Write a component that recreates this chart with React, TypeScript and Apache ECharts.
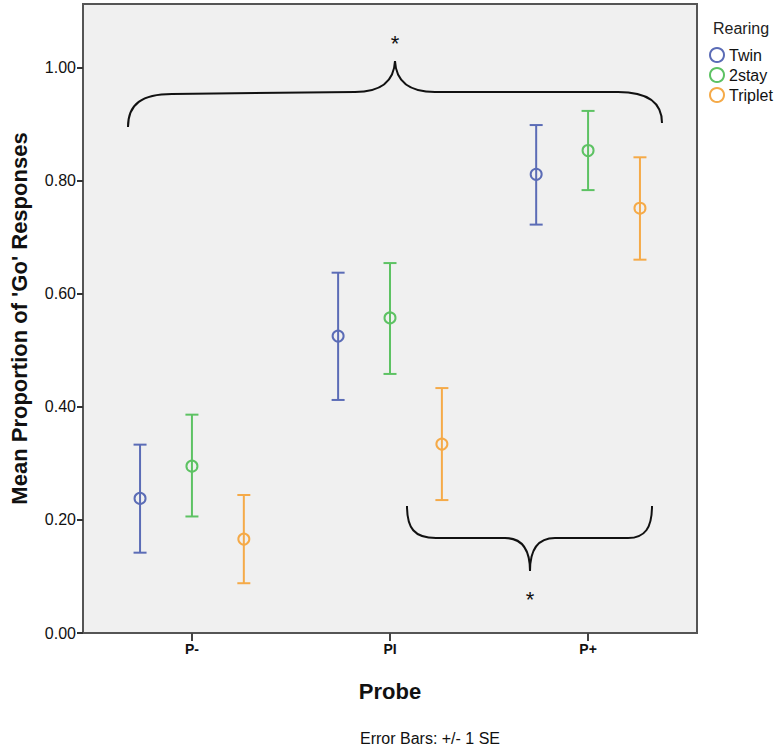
import React, { useEffect, useRef } from 'react';
import * as echarts from 'echarts';

const categories = ['P-', 'PI', 'P+'];
const groups = ['Twin', '2stay', 'Triplet'];

const twinMean = [0.238, 0.525, 0.811];
const twinLow = [0.142, 0.412, 0.722];
const twinHigh = [0.333, 0.637, 0.898];

const stayMean = [0.295, 0.557, 0.853];
const stayLow = [0.206, 0.458, 0.783];
const stayHigh = [0.386, 0.654, 0.923];

const tripMean = [0.166, 0.334, 0.751];
const tripLow = [0.088, 0.235, 0.660];
const tripHigh = [0.244, 0.433, 0.841];

const yTicks = [0, 0.2, 0.4, 0.6, 0.8, 1.0];
const xTicks = [0, 1, 2];

const colors = ['#5b6cb6', '#5dc263', '#f5aa48'];
const offsets = [-0.262, 0, 0.262];

const FONT = '"Liberation Sans", Arial, sans-serif';

function makeSeries(name: string, mean: number[], low: number[], high: number[], color: string, offset: number) {
  return {
    type: 'custom',
    name,
    itemStyle: { color },
    data: categories.map((_, i) => [i + offset, mean[i], low[i], high[i]]),
    encode: { x: 0, y: [1, 2, 3] },
    renderItem: (params: any, api: any) => {
      const x = api.value(0);
      const c = api.coord([x, api.value(1)]);
      const lo = api.coord([x, api.value(2)]);
      const hi = api.coord([x, api.value(3)]);
      const cap = 6.5;
      const st = { stroke: color, lineWidth: 2, fill: 'none' };
      return {
        type: 'group',
        children: [
          { type: 'line', shape: { x1: lo[0], y1: lo[1], x2: hi[0], y2: hi[1] }, style: st },
          { type: 'line', shape: { x1: lo[0] - cap, y1: lo[1], x2: lo[0] + cap, y2: lo[1] }, style: st },
          { type: 'line', shape: { x1: hi[0] - cap, y1: hi[1], x2: hi[0] + cap, y2: hi[1] }, style: st },
          { type: 'circle', shape: { cx: c[0], cy: c[1], r: 5.5 }, style: st },
        ],
      };
    },
  };
}

const topBrace =
  'M128,127 C128,104 142,94 172,94 L355,92 C380,92 394,82 395,61 C396,82 410,92 435,92 L618,92 C646,92 662,101 662,123';
const bottomBrace =
  'M407,506 C407,528 414,538 436,538 L505,538 C521,538 530,548 530,571 C530,548 539,538 555,538 L628,538 C645,538 652,528 652,506';

echarts.graphic.registerShape('topBrace', echarts.graphic.extendPath(topBrace, {}));
echarts.graphic.registerShape('bottomBrace', echarts.graphic.extendPath(bottomBrace, {}));

export default function App() {
  const ref = useRef<HTMLDivElement>(null);
  useEffect(() => {
    if (!ref.current) return;
    const chart = echarts.init(ref.current, undefined, { renderer: 'svg' });
    const series = [
      makeSeries(groups[0], twinMean, twinLow, twinHigh, colors[0], offsets[0]),
      makeSeries(groups[1], stayMean, stayLow, stayHigh, colors[1], offsets[1]),
      makeSeries(groups[2], tripMean, tripLow, tripHigh, colors[2], offsets[2]),
    ];
    chart.setOption({
      animation: false,
      backgroundColor: '#ffffff',
      textStyle: { fontFamily: FONT },
      title: {
        text: 'Rearing',
        left: 708,
        top: 15,
        textStyle: { fontSize: 16, fontWeight: 'normal', color: '#222', fontFamily: FONT },
      },
      legend: {
        orient: 'vertical',
        left: 709,
        top: 47,
        itemWidth: 14,
        itemHeight: 14,
        itemGap: 4,
        padding: 0,
        textStyle: { fontSize: 16, lineHeight: 14, color: '#111', fontFamily: FONT },
        data: groups.map((g, i) => ({
          name: g,
          icon: 'circle',
          itemStyle: { color: 'transparent', borderColor: colors[i], borderWidth: 2 },
        })),
      },
      grid: {
        left: 81,
        top: 4,
        width: 616,
        height: 629,
        show: true,
        backgroundColor: '#f0f0f0',
        borderColor: '#555',
        borderWidth: 2,
      },
      xAxis: {
        type: 'value',
        min: -0.55,
        max: 2.55,
        name: 'Probe',
        nameLocation: 'middle',
        nameGap: 47,
        nameTextStyle: { fontSize: 22, fontWeight: 'bold', color: '#111', fontFamily: FONT },
        axisLine: { show: true, onZero: false, lineStyle: { color: '#555', width: 2 } },
        axisTick: { show: true, length: 8, lineStyle: { color: '#444', width: 2 }, customValues: xTicks },
        axisLabel: {
          customValues: xTicks,
          formatter: (v: number) => categories[Math.round(v)],
          fontSize: 14,
          fontWeight: 'bold',
          color: '#111',
          margin: 9,
        },
        splitLine: { show: false },
      },
      yAxis: {
        type: 'value',
        min: 0,
        max: 1.112,
        name: "Mean Proportion of 'Go' Responses",
        nameLocation: 'middle',
        nameGap: 53,
        nameTextStyle: { fontSize: 22, fontWeight: 'bold', color: '#111', fontFamily: FONT },
        axisLine: { show: true, onZero: false, lineStyle: { color: '#555', width: 2 } },
        axisTick: { show: true, length: 6, lineStyle: { color: '#333', width: 2 }, customValues: yTicks },
        axisLabel: {
          customValues: yTicks,
          formatter: (v: number) => v.toFixed(2),
          fontSize: 16,
          color: '#111',
          margin: 7,
        },
        splitLine: { show: false },
      },
      graphic: [
        { type: 'topBrace', x: 0, y: 0, z: 100, style: { fill: 'none', stroke: '#111', lineWidth: 2 } },
        { type: 'bottomBrace', x: 0, y: 0, z: 100, style: { fill: 'none', stroke: '#111', lineWidth: 2 } },
        { type: 'text', x: 395, y: 43, z: 100, style: { text: '*', fontSize: 22, fill: '#111', align: 'center', verticalAlign: 'middle', fontFamily: FONT } },
        { type: 'text', x: 530, y: 599, z: 100, style: { text: '*', fontSize: 22, fill: '#111', align: 'center', verticalAlign: 'middle', fontFamily: FONT } },
        { type: 'text', x: 430, y: 738, style: { text: 'Error Bars: +/- 1 SE', fontSize: 16, fill: '#111', align: 'center', verticalAlign: 'middle', fontFamily: FONT } },
      ],
      series,
    });
    return () => chart.dispose();
  }, []);
  return <div ref={ref} style={{ position: 'fixed', left: 0, top: 0, width: 777, height: 749 }} />;
}
